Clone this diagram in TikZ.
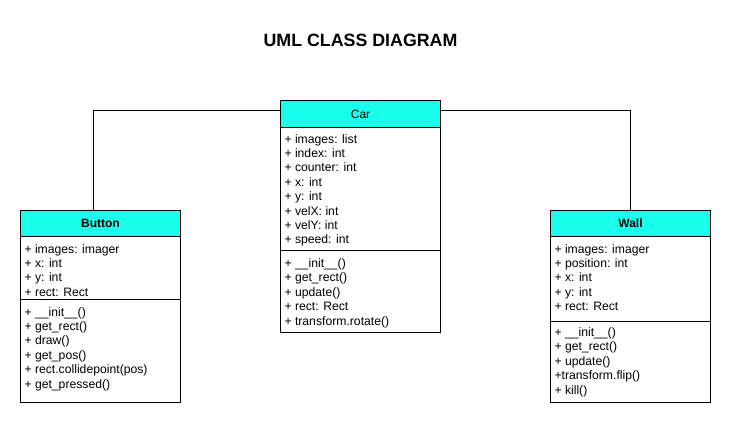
\documentclass[tikz,border=0pt]{standalone}
\usepackage{fontspec}
\setmainfont{Liberation Sans}
\definecolor{hdrcyan}{RGB}{26,255,236}
\begin{document}
\begin{tikzpicture}[x=1pt,y=-1pt,line width=1pt,
  hdr/.style={draw,fill=hdrcyan,minimum width=160pt,inner sep=0pt,anchor=north west,font=\fontsize{12}{14.4}\selectfont},
  hdrb/.style={hdr,font=\bfseries\fontsize{12}{14.4}\selectfont},
  txt/.style={anchor=base west,inner sep=0pt,font=\fontsize{12.2}{14.4}\selectfont},
  body/.style={draw,fill=white},
  conn/.style={draw,line width=1pt}]
\useasboundingbox (0,0) rectangle (731,426);

% title
\node[anchor=base,inner sep=0pt,font=\bfseries\fontsize{17.8}{21}\selectfont] (title) at (360.5,46.5) {UML CLASS DIAGRAM};

% ---------- Car ----------
\path[body] (280,127) rectangle (440,332);
\draw (280,250) -- (440,250);
\node[hdr,minimum height=27pt] (carhead) at (280,100) {Car};
\foreach \t [count=\i from 0] in {+ images: list,+ index: int,+ counter: int,+ x: int,+ y: int,+ velX: int,+ velY: int,+ speed: int}
  \node[txt] (car-a-\i) at (284,{143+14.4*\i}) {\t};
\foreach \t [count=\i from 0] in {+ \_\_init\_\_(),+ get\_rect(),+ update(),+ rect: Rect,+ transform.rotate()}
  \node[txt] (car-m-\i) at (284,{267.5+14.4*\i}) {\t};

% ---------- Button ----------
\path[body] (20,236) rectangle (180,402);
\draw (20,299) -- (180,299);
\node[hdrb,minimum height=26pt] (buttonhead) at (20,210) {Button};
\foreach \t [count=\i from 0] in {+ images: imager,+ x: int,+ y: int,+ rect: Rect}
  \node[txt] (button-a-\i) at (24,{253+14.4*\i}) {\t};
\foreach \t [count=\i from 0] in {+ \_\_init\_\_(),+ get\_rect(),+ draw(),+ get\_pos(),+ rect.collidepoint(pos),+ get\_pressed()}
  \node[txt] (button-m-\i) at (24,{316+14.4*\i}) {\t};

% ---------- Wall ----------
\path[body] (550,236) rectangle (710,402);
\draw (550,321) -- (710,321);
\node[hdrb,minimum height=26pt] (wallhead) at (550,210) {Wall};
\foreach \t [count=\i from 0] in {+ images: imager,+ position: int,+ x: int,+ y: int,+ rect: Rect}
  \node[txt] (wall-a-\i) at (554,{253+14.4*\i}) {\t};
\foreach \t [count=\i from 0] in {+ \_\_init\_\_(),+ get\_rect(),+ update(),+transform.flip(),+ kill()}
  \node[txt] (wall-m-\i) at (554,{336.5+14.4*\i}) {\t};

% ---------- connectors ----------
\draw[conn] ([xshift=-7pt]buttonhead.north) |- ([yshift=3.5pt]carhead.west);
\draw[conn] ([yshift=3.5pt]carhead.east) -| (wallhead.north);
\end{tikzpicture}
\end{document}
